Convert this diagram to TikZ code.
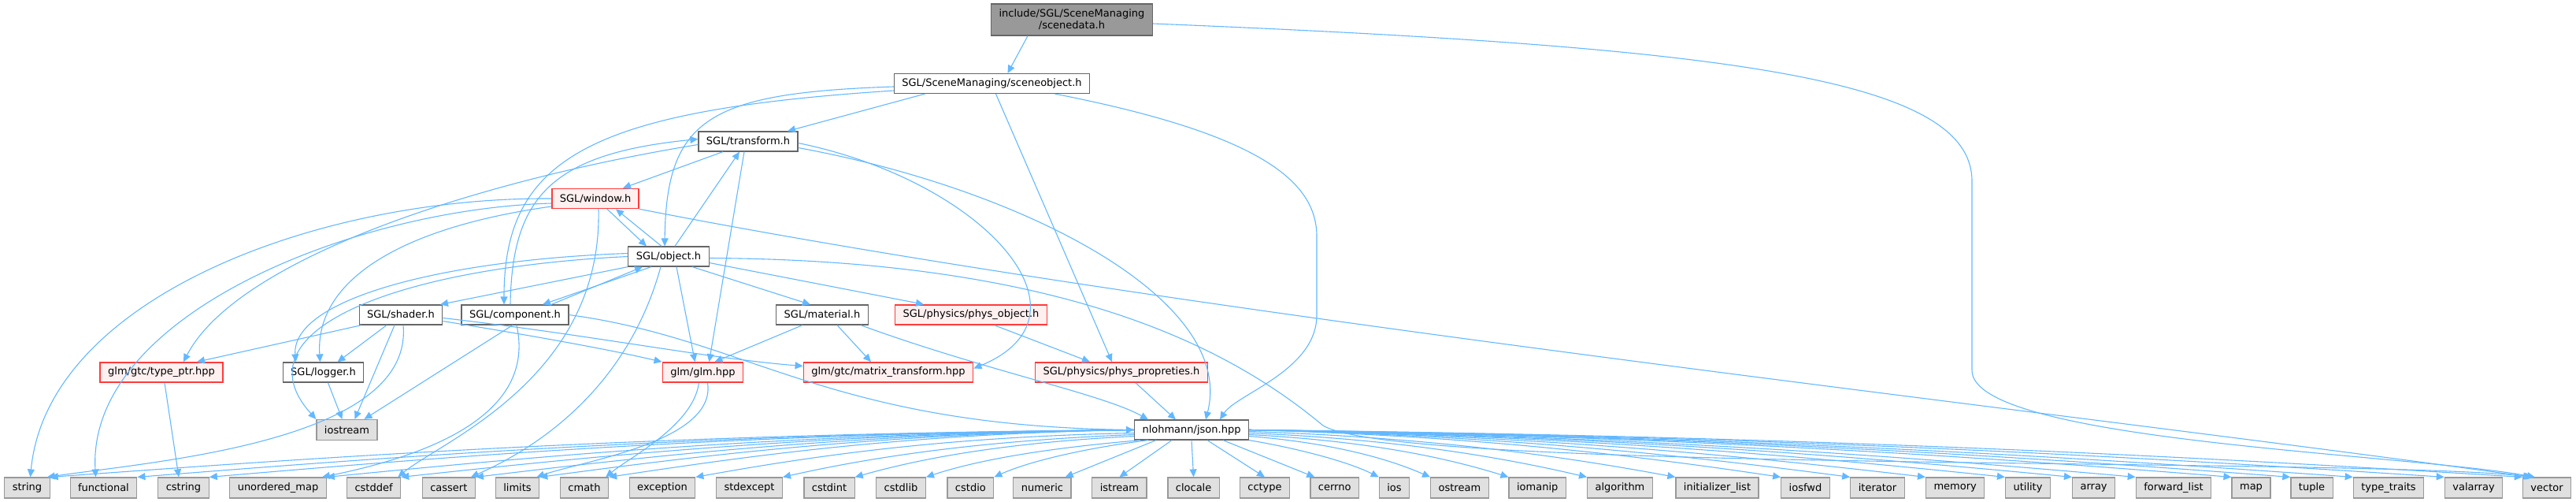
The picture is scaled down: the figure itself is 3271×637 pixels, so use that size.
\documentclass[tikz,border=0pt]{standalone}
\usepackage{fontspec}
\setmainfont{DejaVu Sans}
\usepackage{tikz}
\usetikzlibrary{arrows.meta, calc}

\definecolor{edgeblue}{HTML}{63B8FF}
\definecolor{boxgrey}{HTML}{666666}
\definecolor{sysgrey}{HTML}{999999}
\definecolor{sysfill}{HTML}{E0E0E0}
\definecolor{truncred}{HTML}{FF3B3B}
\definecolor{truncfill}{HTML}{FFF0F0}

\begin{document}
\begin{tikzpicture}[x=1pt, y=-1pt,
  file/.style={draw=boxgrey, fill=white, rectangle, line width=1.2pt, minimum height=25pt, inner xsep=10pt, inner ysep=2pt, font=\fontsize{13}{15}\selectfont},
  sys/.style={file, draw=sysgrey, fill=sysfill, minimum height=26pt},
  trunc/.style={file, draw=truncred, fill=truncfill, line width=1.6pt},
  current/.style={file, draw=boxgrey, fill=sysgrey, align=center, minimum height=40pt, inner ysep=1pt},
  edge/.style={-{Triangle[length=10pt, width=9pt]}, draw=edgeblue, line width=1.1pt}
]
\useasboundingbox (0,0) rectangle (3271,637);

\node[current] (sd) at (1361,25) {include/SGL/SceneManaging\\/scenedata.h};
\node[file] (so) at (1259.5,106) {SGL/SceneManaging/sceneobject.h};
\node[file] (tr) at (950,179.5) {SGL/transform.h};
\node[trunc] (wi) at (756,252) {SGL/window.h};
\node[file] (ob) at (849,325.5) {SGL/object.h};
\node[file] (sh) at (509,399.5) {SGL/shader.h};
\node[file] (co) at (654,399.5) {SGL/component.h};
\node[file] (ma) at (1044,399.5) {SGL/material.h};
\node[trunc] (po) at (1233,399.5) {SGL/physics/phys\_object.h};
\node[trunc] (tp) at (205,472.5) {glm/gtc/type\_ptr.hpp};
\node[file] (lg) at (410.5,472.5) {SGL/logger.h};
\node[trunc] (gl) at (892.5,472.5) {glm/glm.hpp};
\node[trunc] (mt) at (1128,472.5) {glm/gtc/matrix\_transform.hpp};
\node[trunc] (pp) at (1424,472.5) {SGL/physics/phys\_propreties.h};
\node[sys] (io) at (440.5,545.5) {iostream};
\node[file] (js) at (1513,545.5) {nlohmann/json.hpp};

\node[sys] (str) at (34.5,619) {string};
\node[sys] (fun) at (131.5,619) {functional};
\node[sys] (cstr) at (233,619) {cstring};
\node[sys] (umap) at (353,619) {unordered\_map};
\node[sys] (cdef) at (474.6,619) {cstddef};
\node[sys] (cass) at (569.8,619) {cassert};
\node[sys] (lim) at (657,619) {limits};
\node[sys] (cmath) at (742,619) {cmath};
\node[sys] (exc) at (841,619) {exception};
\node[sys] (sexc) at (951.5,619) {stdexcept};
\node[sys] (cint) at (1053,619) {cstdint};
\node[sys] (clib) at (1144,619) {cstdlib};
\node[sys] (cio) at (1232.4,619) {cstdio};
\node[sys] (num) at (1323.4,619) {numeric};
\node[sys] (ist) at (1421.4,619) {istream};
\node[sys] (cloc) at (1515.6,619) {clocale};
\node[sys] (ctyp) at (1606,619) {cctype};
\node[sys] (cerr) at (1694.7,619) {cerrno};
\node[sys] (ios) at (1770.5,619) {ios};
\node[sys] (ost) at (1853.4,619) {ostream};
\node[sys] (iom) at (1952.2,619) {iomanip};
\node[sys] (alg) at (2057,619) {algorithm};
\node[sys] (ilist) at (2180.5,619) {initializer\_list};
\node[sys] (ifwd) at (2292.5,619) {iosfwd};
\node[sys] (iter) at (2384,619) {iterator};
\node[sys] (mem) at (2482.7,619) {memory};
\node[sys] (util) at (2575,619) {utility};
\node[sys] (arr) at (2658.6,619) {array};
\node[sys] (flist) at (2760,619) {forward\_list};
\node[sys] (map) at (2858.5,619) {map};
\node[sys] (tup) at (2935.5,619) {tuple};
\node[sys] (ttr) at (3033,619) {type\_traits};
\node[sys] (varr) at (3141,619) {valarray};
\node[sys] (vec) at (3234,619) {vector};

\draw[edge] ([xshift=-56pt]sd.south) -- ([xshift=20pt]so.north);
\draw[edge] ([yshift=-5pt]sd.east) .. controls (2200,60) and (2504,100) .. (2504,230) -- (2504,470) .. controls (2504,560) and (3050,575) .. ([xshift=-15pt]vec.north);

\draw[edge] ([xshift=-85pt]so.south) -- ([xshift=50pt]tr.north);
\draw[edge] ([yshift=-4pt]so.west) .. controls (900,118) and (846,150) .. ([xshift=-5pt]ob.north);
\draw[edge] ([yshift=-9pt]so.west) .. controls (750,140) and (640,200) .. ([xshift=-14pt]co.north);
\draw[edge] ([xshift=5pt]so.south) -- ([xshift=-12pt]pp.north);
\draw[edge] ([xshift=80pt]so.south) .. controls (1600,170) and (1672,230) .. (1672,300) -- (1672,400) .. controls (1672,470) and (1570,500) .. ([xshift=36pt]js.north);

\draw[edge] ([xshift=-32pt]tr.south) -- ([xshift=35pt]wi.north);
\draw[edge] ([xshift=-5pt]tr.south) -- ([xshift=8pt]gl.north);
\draw[edge] ([yshift=-2pt]tr.east) .. controls (1250,230) and (1400,400) .. ([yshift=5pt]mt.east);
\draw[edge] ([yshift=-8pt]tr.east) .. controls (1300,240) and (1570,380) .. ([xshift=18pt]js.north);
\draw[edge] ([yshift=-4pt]tr.west) .. controls (600,230) and (300,330) .. ([xshift=28pt]tp.north);

\draw[edge] (wi.west) .. controls (400,250) and (60,380) .. ([xshift=4pt]str.north);
\draw[edge] ([yshift=-6pt]wi.west) .. controls (450,265) and (110,400) .. ([xshift=-10pt]fun.north);
\draw[edge] ([yshift=-10pt]wi.west) .. controls (500,290) and (400,360) .. ([xshift=-4pt]lg.north);
\draw[edge] (wi.south east) .. controls (1500,400) and (2600,520) .. ([xshift=-20pt]vec.north);
\draw[edge] ([xshift=4pt]wi.south) .. controls (765,480) and (560,560) .. ([xshift=-4pt]cdef.north east);
\draw[edge] ([xshift=15pt]wi.south) -- ([xshift=-28pt]ob.north);

\draw[edge] ([xshift=-9pt]ob.north) -- ([xshift=26pt]wi.south);
\draw[edge] ([xshift=8pt]ob.north) -- ([xshift=-11pt]tr.south);
\draw[edge] (ob.south west) -- ([xshift=50pt]sh.north);
\draw[edge] ([xshift=-22pt]ob.south) -- ([xshift=35pt]co.north);
\draw[edge] ([xshift=30pt]ob.south) -- ([xshift=-15pt]ma.north);
\draw[edge] ([yshift=-8pt]ob.east) -- ([xshift=-60pt]po.north);
\draw[edge] ([xshift=10pt]ob.south) -- ([xshift=-10pt]gl.north);
\draw[edge] ([yshift=4pt]ob.west) .. controls (560,330) and (370,380) .. ([xshift=-35pt]lg.north);
\draw[edge] (ob.west) .. controls (500,340) and (300,420) .. (io.north west);
\draw[edge] ([yshift=-2pt]ob.east) .. controls (1350,330) and (1560,440) .. (1680,540) .. controls (1780,600) and (3000,580) .. ([xshift=-18pt]vec.north);
\draw[edge] ([xshift=-10pt]ob.south) .. controls (800,480) and (700,560) .. ([xshift=-6pt]cass.north east);

\draw[edge] ([xshift=46pt]co.north) -- ([xshift=-33pt]ob.south);
\draw[edge] ([xshift=-6pt]co.north) .. controls (650,250) and (700,195) .. ([yshift=3pt]tr.west);
\draw[edge] ([xshift=-3pt]co.south) -- ([xshift=22pt]io.north);
\draw[edge] ([xshift=2pt]co.south) .. controls (680,520) and (560,575) .. ([xshift=-6pt]umap.north east);
\draw[edge] (co.east) .. controls (950,430) and (1050,540) .. (js.west);

\draw[edge] ([xshift=-50pt]sh.south) -- ([xshift=45pt]tp.north);
\draw[edge] ([xshift=-18pt]sh.south) -- ([xshift=18pt]lg.north);
\draw[edge] ([xshift=-8pt]sh.south) -- ([xshift=10pt]io.north);
\draw[edge] ([xshift=3pt]sh.south) .. controls (525,560) and (200,585) .. ([xshift=-4pt]str.north east);
\draw[edge] ([yshift=-8pt]sh.east) .. controls (700,430) and (780,445) .. (gl.north west);
\draw[edge] ([yshift=-4pt]sh.east) .. controls (750,425) and (900,455) .. ([yshift=8pt]mt.west);

\draw[edge] ([xshift=-25pt]ma.south) -- ([xshift=15pt]gl.north);
\draw[edge] ([xshift=19pt]ma.south) -- ([xshift=-22pt]mt.north);
\draw[edge] ([xshift=-10pt]ma.south east) .. controls (1250,470) and (1400,500) .. ([xshift=-55pt]js.north);
\draw[edge] ([xshift=30pt]po.south) -- ([xshift=-40pt]pp.north);
\draw[edge] ([xshift=18pt]pp.south) -- ([xshift=-20pt]js.north);

\draw[edge] ([xshift=4pt]tp.south) -- ([xshift=-6pt]cstr.north);
\draw[edge] ([xshift=6pt]lg.south) -- ([xshift=-6pt]io.north);
\draw[edge] ([xshift=-5pt]gl.south) .. controls (880,540) and (800,580) .. ([xshift=-4pt]cmath.north east);
\draw[edge] ([xshift=6pt]gl.south) .. controls (910,560) and (740,585) .. ([xshift=-4pt]lim.north east);

\draw[edge] (js.west) .. controls +(-620,5) and +(344,-25) .. (str.north east);
\draw[edge] (js.west) .. controls +(-570,5) and +(316,-25) .. (fun.north east);
\draw[edge] (js.west) .. controls +(-528,5) and +(293,-25) .. (cstr.north east);
\draw[edge] (js.west) .. controls +(-461,5) and +(256,-25) .. (umap.north east);
\draw[edge] (js.west) .. controls +(-419,5) and +(233,-25) .. (cdef.north east);
\draw[edge] (js.west) .. controls +(-376,5) and +(209,-25) .. (cass.north east);
\draw[edge] (js.west) .. controls +(-339,5) and +(188,-25) .. (lim.north east);
\draw[edge] (js.west) .. controls +(-300,5) and +(167,-25) .. (cmath.north east);
\draw[edge] ([yshift=-4pt]js.west) .. controls +(-250,5) and +(139,-25) .. (exc.north east);
\draw[edge] ([yshift=-6pt]js.west) .. controls +(-200,8) and +(111,-25) .. (sexc.north east);
\draw[edge] ([yshift=-8pt]js.west) .. controls +(-159,8) and +(88,-25) .. (cint.north east);
\draw[edge] ([xshift=8pt]js.south west) .. controls +(-118,10) and +(66,-22) .. (clib.north east);
\draw[edge] ([xshift=18pt]js.south west) .. controls +(-80,10) and +(44,-20) .. (cio.north east);
\draw[edge] ([xshift=-45pt]js.south) -- ([xshift=-8pt]num.north east);
\draw[edge] ([xshift=-25pt]js.south) -- (ist.north);
\draw[edge] (js.south) -- (cloc.north);
\draw[edge] ([xshift=20pt]js.south) -- (ctyp.north);
\draw[edge] ([xshift=40pt]js.south) -- ([xshift=6pt]cerr.north west);
\draw[edge] (js.south east) .. controls +(60,10) and +(-40,-20) .. (ios.north west);
\draw[edge] ([yshift=-8pt]js.east) .. controls +(100,8) and +(-57,-25) .. (ost.north west);
\draw[edge] ([yshift=-6pt]js.east) .. controls +(150,8) and +(-80,-25) .. (iom.north west);
\draw[edge] ([yshift=-4pt]js.east) .. controls +(190,8) and +(-107,-25) .. (alg.north west);
\draw[edge] ([yshift=-2pt]js.east) .. controls +(240,8) and +(-135,-25) .. (ilist.north west);
\draw[edge] (js.east) .. controls +(300,8) and +(-168,-25) .. (ifwd.north west);
\draw[edge] (js.east) .. controls +(340,8) and +(-190,-25) .. (iter.north west);
\draw[edge] (js.east) .. controls +(385,8) and +(-215,-25) .. (mem.north west);
\draw[edge] (js.east) .. controls +(430,8) and +(-240,-25) .. (util.north west);
\draw[edge] (js.east) .. controls +(470,8) and +(-261,-25) .. (arr.north west);
\draw[edge] (js.east) .. controls +(505,8) and +(-281,-25) .. (flist.north west);
\draw[edge] (js.east) .. controls +(560,8) and +(-312,-25) .. (map.north west);
\draw[edge] (js.east) .. controls +(595,8) and +(-330,-25) .. (tup.north west);
\draw[edge] (js.east) .. controls +(630,8) and +(-350,-25) .. (ttr.north west);
\draw[edge] (js.east) .. controls +(680,8) and +(-380,-25) .. (varr.north west);
\draw[edge] (js.east) .. controls +(730,8) and +(-405,-25) .. (vec.north west);

\end{tikzpicture}
\end{document}
